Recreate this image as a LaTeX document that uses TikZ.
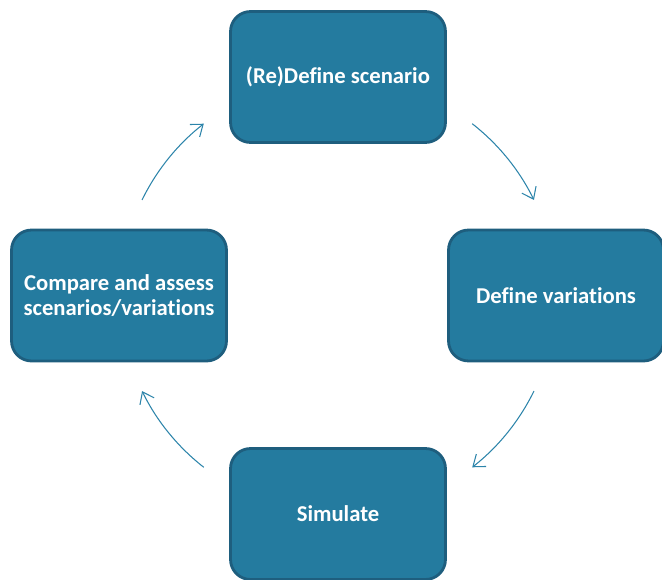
\documentclass[tikz,border=0pt]{standalone}
\usepackage{fontspec}
\setmainfont[Ligatures={NoCommon}]{Carlito}
\usetikzlibrary{arrows.meta}
\definecolor{boxfill}{HTML}{247B9F}
\definecolor{boxline}{HTML}{1E5E7E}
\definecolor{cycline}{HTML}{2C84AA}
\begin{document}
\begin{tikzpicture}[x=0.02cm, y=0.02cm,
  stage/.style={draw=boxline, line width=1.6pt, fill=boxfill, rounded corners=0.4cm,
    minimum width=4.3cm, minimum height=2.62cm, text=white, align=center,
    font=\fontsize{12.9}{13.8}\selectfont\bfseries, inner sep=2pt},
  cycarrow/.style={draw=cycline, line width=0.6pt, -{Straight Barb[length=6pt,width=9pt]}}]

\useasboundingbox (0,0) rectangle (662,579);

\node[stage] (redefine) at (338,502) {(Re)Define scenario};
\node[stage] (variations) at (556,283.5) {Define variations};
\node[stage] (simulate) at (338,65) {Simulate};
\node[stage] (compare) at (119,283.5) {Compare and assess\\scenarios/variations};

% arrows round the cycle
\coordinate (hub) at (338,283.5);
\foreach \a in {52,-26,-128,154}
  \draw[cycarrow] ([shift={(\a:218)}]hub) arc[start angle=\a, end angle=\a-26, radius=218];

\end{tikzpicture}
\end{document}
